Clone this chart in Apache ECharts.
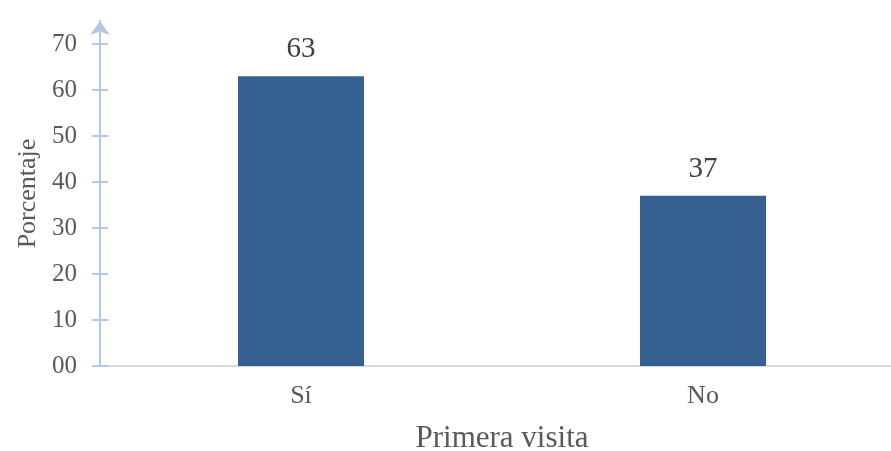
<!DOCTYPE html>
<html>
<head>
<meta charset="utf-8">
<script src="https://cdn.jsdelivr.net/npm/echarts@6/dist/echarts.min.js"></script>
<style>
  html, body { margin: 0; padding: 0; background: #fff; }
  #chart { width: 891px; height: 451px; }
</style>
</head>
<body>
<div id="chart"></div>
<script>
var categories = ['Sí', 'No'];
var values = [63, 37];
var tickValues = [0, 10, 20, 30, 40, 50, 60, 70];

var chart = echarts.init(document.getElementById('chart'));
var font = '"Liberation Serif", "Times New Roman", serif';
var axisBlue = '#b4c7e7';

var pad2 = function (v) {
    return v < 10 ? '0' + v : String(v);
};

var option = {
    animation: false,
    backgroundColor: '#fff',
    grid: {
        left: 100,
        top: 21,
        width: 804,
        bottom: 85,
        outerBoundsMode: 'none',
        containLabel: false
    },
    xAxis: {
        type: 'category',
        data: categories,
        name: 'Primera visita',
        nameLocation: 'middle',
        nameGap: 57,
        nameTextStyle: { color: '#595959', fontFamily: font, fontSize: 31 },
        axisLine: { lineStyle: { color: '#d9d9d9', width: 2 } },
        axisTick: { show: false },
        axisLabel: { color: '#595959', fontFamily: font, fontSize: 26, margin: 17 }
    },
    yAxis: [
        {
            type: 'value',
            min: 0,
            max: 75,
            interval: 5,
            name: 'Porcentaje',
            nameLocation: 'middle',
            nameGap: 56,
            nameTextStyle: { color: '#595959', fontFamily: font, fontSize: 26 },
            splitLine: { show: false },
            axisLine: {
                show: true,
                symbol: ['none', 'arrow'],
                symbolSize: [15, 14],
                lineStyle: { color: axisBlue, width: 2 }
            },
            axisTick: {
                show: true,
                length: 8,
                customValues: tickValues,
                lineStyle: { color: axisBlue, width: 2 }
            },
            axisLabel: {
                color: '#595959',
                fontFamily: font,
                fontSize: 25,
                margin: 23,
                customValues: tickValues,
                formatter: pad2
            }
        },
        {
            type: 'value',
            min: 0,
            max: 75,
            interval: 5,
            position: 'left',
            splitLine: { show: false },
            axisLine: { show: false },
            axisLabel: { show: false },
            axisTick: {
                show: true,
                inside: true,
                length: 8,
                customValues: tickValues,
                lineStyle: { color: axisBlue, width: 2 }
            }
        }
    ],
    series: [
        {
            type: 'bar',
            data: values,
            barWidth: 126,
            itemStyle: { color: '#36608f' },
            label: {
                show: true,
                position: 'top',
                distance: 12,
                color: '#404040',
                fontFamily: font,
                fontSize: 29
            }
        }
    ]
};

chart.setOption(option);
</script>
</body>
</html>
